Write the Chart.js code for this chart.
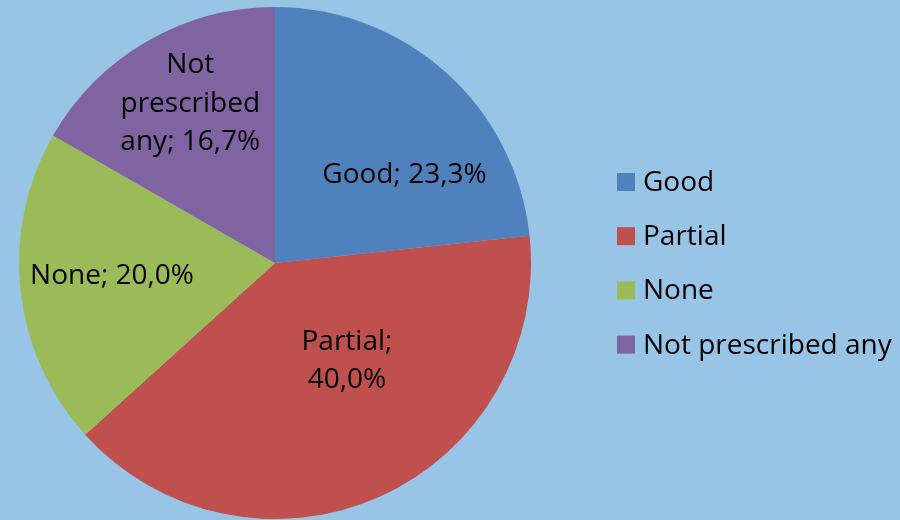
<!DOCTYPE html>
<html>
<head>
<meta charset="utf-8">
<title>Prescription adherence</title>
<script src="https://cdn.jsdelivr.net/npm/chart.js@4.4.1/dist/chart.umd.min.js"></script>
<style>
    html, body { margin: 0; padding: 0; background: #98c4e5; }
    #wrap { width: 900px; height: 520px; position: relative; }
</style>
</head>
<body>
<div id="wrap"><canvas id="pie"></canvas></div>
<script>
(function () {
    'use strict';

    // data
    var categories = ['Good', 'Partial', 'None', 'Not prescribed any'];
    var shares = [23.3, 40.0, 20.0, 16.7];
    var sliceColors = ['#4f81bd', '#c0504d', '#9bbb59', '#8064a2'];

    // where each value label sits: angle (deg, canvas orientation) and fraction of radius,
    // plus the width at which the text wraps
    var labelAngle = [-34.7, 53.1, 176.3, -117.7];
    var labelRadius = [0.615, 0.468, 0.638, 0.712];
    var labelWrap = [400, 130, 400, 160];

    var FONT = '28px "Open Sans", sans-serif';
    var CAP = 10;          // half cap height, for vertical centring
    var LINE = 38.5;

    function fmt(v) {
        return v.toFixed(1).replace('.', ',') + '%';
    }

    function wrapText(ctx, text, maxW) {
        var words = text.split(' ');
        var lines = [];
        var cur = '';
        words.forEach(function (w) {
            var test = cur ? cur + ' ' + w : w;
            if (cur && ctx.measureText(test).width > maxW) {
                lines.push(cur);
                cur = w;
            } else {
                cur = test;
            }
        });
        if (cur) lines.push(cur);
        return lines;
    }

    var sliceLabels = {
        id: 'sliceLabels',
        afterDatasetsDraw: function (chart) {
            var ctx = chart.ctx;
            var arcs = chart.getDatasetMeta(0).data;
            ctx.save();
            ctx.font = FONT;
            ctx.fillStyle = '#000';
            ctx.textAlign = 'center';
            ctx.textBaseline = 'alphabetic';
            arcs.forEach(function (arc, i) {
                var a = labelAngle[i] * Math.PI / 180;
                var r = arc.outerRadius * labelRadius[i];
                var cx = arc.x + Math.cos(a) * r;
                var cy = arc.y + Math.sin(a) * r;
                var text = chart.data.labels[i] + '; ' + fmt(chart.data.datasets[0].data[i]);
                var lines = wrapText(ctx, text, labelWrap[i]);
                lines.forEach(function (ln, k) {
                    var y = cy + (k - (lines.length - 1) / 2) * LINE + CAP;
                    ctx.fillText(ln, cx, y);
                });
            });
            ctx.restore();
        }
    };

    var sideLegend = {
        id: 'sideLegend',
        afterDraw: function (chart) {
            var ctx = chart.ctx;
            var ds = chart.data.datasets[0];
            ctx.save();
            ctx.font = FONT;
            ctx.textAlign = 'left';
            ctx.textBaseline = 'alphabetic';
            chart.data.labels.forEach(function (lab, i) {
                var y = 182 + i * 54.2;
                ctx.fillStyle = ds.backgroundColor[i];
                ctx.fillRect(617, y - 9, 18, 18);
                ctx.fillStyle = '#000';
                ctx.fillText(lab, 643, y + CAP - 1);
            });
            ctx.restore();
        }
    };

    new Chart(document.getElementById('pie').getContext('2d'), {
        type: 'pie',
        data: {
            labels: categories,
            datasets: [{
                data: shares,
                backgroundColor: sliceColors,
                borderWidth: 0
            }]
        },
        options: {
            responsive: true,
            maintainAspectRatio: false,
            animation: false,
            layout: { padding: { left: 19, right: 369, top: 7, bottom: 1 } },
            plugins: {
                legend: { display: false },
                tooltip: { enabled: false }
            }
        },
        plugins: [sliceLabels, sideLegend]
    });
})();
</script>
</body>
</html>
